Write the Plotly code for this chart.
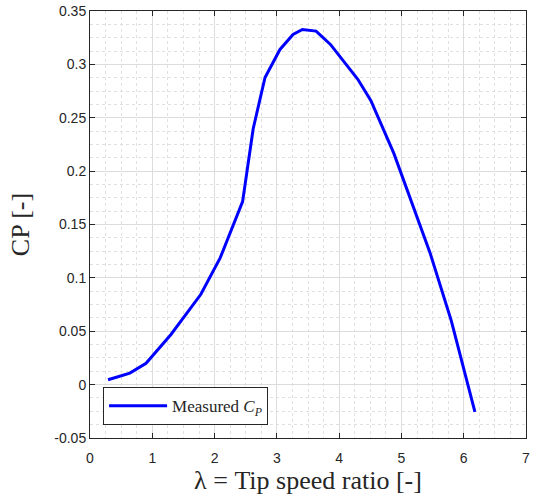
import plotly.graph_objects as go

tsr = [0.29, 0.64, 0.90, 1.30, 1.78, 2.09, 2.45, 2.62, 2.81, 3.05, 3.26, 3.41,
       3.63, 3.86, 4.30, 4.51, 4.88, 5.46, 5.80, 6.18]
cp = [0.0046, 0.0108, 0.020, 0.047, 0.0846, 0.1187, 0.1714, 0.2397, 0.2877,
      0.314, 0.328, 0.3327, 0.3312, 0.3187, 0.286, 0.266, 0.2164, 0.1234,
      0.060, -0.0255]
x_ticks = [0, 1, 2, 3, 4, 5, 6, 7]
y_ticks = [-0.05, 0, 0.05, 0.1, 0.15, 0.2, 0.25, 0.3, 0.35]
y_tick_labels = ["-0.05", "0", "0.05", "0.1", "0.15", "0.2", "0.25", "0.3", "0.35"]

fig = go.Figure()
fig.add_trace(go.Scatter(
    x=tsr, y=cp, mode="lines",
    line=dict(color="#0000FF", width=3),
    name="Measured <i>C</i><sub><i>P</i></sub>",
))

axis_common = dict(
    showline=True, linecolor="#262626", linewidth=1, mirror="ticks",
    ticks="inside", ticklen=5, tickcolor="#262626", tickwidth=1,
    showgrid=True, gridcolor="#dcdcdc", gridwidth=1,
    zeroline=False,
    tickfont=dict(family="Liberation Sans, Arial", size=14, color="#262626"),
)

serif = "'Liberation Serif', 'DejaVu Serif', serif"

fig.update_xaxes(
    range=[0, 7.0001], tickvals=x_ticks, ticklabelstandoff=7,
    ticklabeloverflow="allow",
    minor=dict(dtick=0.25, showgrid=True, gridcolor="#e0e0e0", griddash="dot", gridwidth=1),
    title=dict(text="λ = Tip speed ratio [-]",
               font=dict(family=serif, size=26, color="#262626"),
               standoff=0),
    **axis_common,
)
fig.update_yaxes(
    range=[-0.0500001, 0.3500001], tickvals=y_ticks, ticktext=y_tick_labels,
    ticklabeloverflow="allow",
    minor=dict(dtick=0.0125, showgrid=True, gridcolor="#e0e0e0", griddash="dot", gridwidth=1),
    title=dict(text="CP [-]",
               font=dict(family=serif, size=26, color="#262626"),
               standoff=17),
    **axis_common,
)

fig.update_layout(
    width=533, height=499,
    margin=dict(l=90, r=3, t=8, b=61),
    plot_bgcolor="white", paper_bgcolor="white",
    showlegend=True,
    legend=dict(
        x=0.03, y=0.03, xanchor="left", yanchor="bottom",
        bgcolor="white", bordercolor="#262626", borderwidth=1,
        font=dict(family=serif, size=17, color="#262626"),
        itemwidth=58, tracegroupgap=0,
    ),
)

fig.write_html("out.html")
